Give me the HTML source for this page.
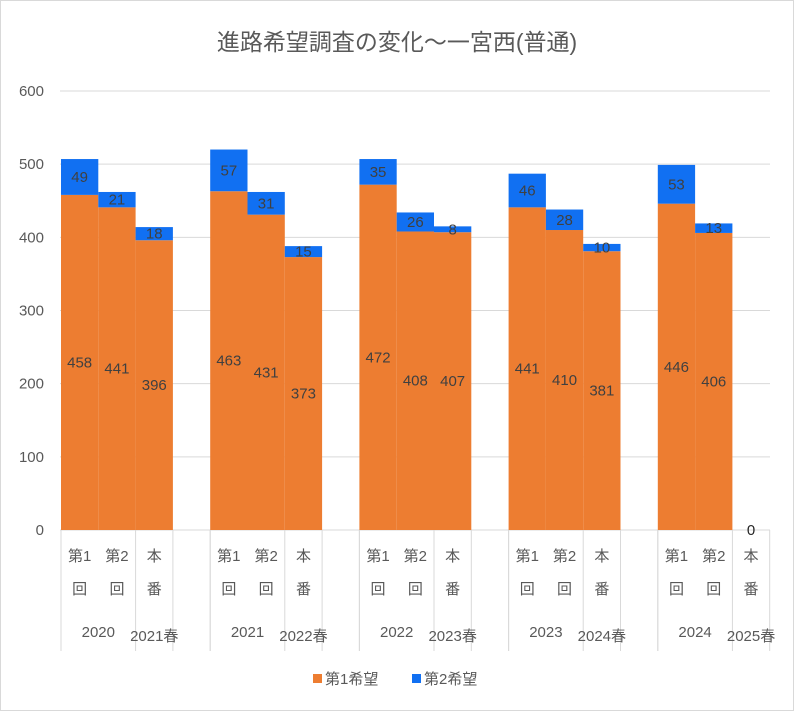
<!DOCTYPE html>
<html><head><meta charset="utf-8"><style>
body{margin:0;background:#fff;}
svg text{font-family:"Liberation Sans","Noto Sans CJK JP",sans-serif;}
</style></head><body>
<svg id="chart" width="794" height="711">
<rect x="0.5" y="0.5" width="793" height="710" fill="#fff" stroke="#d9d9d9"/>
<text x="397" y="50" font-size="23" fill="#595959" text-anchor="middle">進路希望調査の変化～一宮西(普通)</text>
<g id="grid"></g><g id="bars"></g><g id="axis"></g>
<g>
<rect x="313" y="674" width="9" height="9" fill="#ED7D31"/>
<text x="325" y="684" font-size="15" fill="#595959">第1希望</text>
<rect x="412" y="674" width="9" height="9" fill="#1170F2"/>
<text x="424" y="684" font-size="15" fill="#595959">第2希望</text>
</g>
</svg>
<script>
const years=["2020","2021","2022","2023","2024"];
const nextYears=["2021春","2022春","2023春","2024春","2025春"];
const round1First=[458,463,472,441,446];
const round1Second=[49,57,35,46,53];
const round2First=[441,431,408,410,406];
const round2Second=[21,31,26,28,13];
const finalFirst=[396,373,407,381,0];
const finalSecond=[18,15,8,10,0];
const yTicks=[0,100,200,300,400,500,600];
const NS="http://www.w3.org/2000/svg";
const x0=61,slot=37.3,y0=530,yTop=91,yMax=600;
const y=v=>y0-(v/yMax)*(y0-yTop);
function mk(tag,attrs,parent,text){const e=document.createElementNS(NS,tag);for(const k in attrs)e.setAttribute(k,attrs[k]);if(text!==undefined)e.textContent=text;parent.appendChild(e);return e;}
const grid=document.getElementById('grid'),bars=document.getElementById('bars'),axis=document.getElementById('axis');
yTicks.forEach(t=>{
 const l=mk('line',{x1:60,x2:770,y1:y(t),y2:y(t),stroke:'#d9d9d9','stroke-width':1},grid);
 
 
 const tx=mk('text',{x:44,y:y(t)+5,'font-size':15,fill:'#595959','text-anchor':'end'},grid,t);
 
 
});
const firsts=[round1First,round2First,finalFirst],seconds=[round1Second,round2Second,finalSecond];
const names=['round1','round2','final'];
years.forEach((yr,g)=>{
 for(let k=0;k<3;k++){
  const xi=x0+(g*4+k)*slot;
  const f=firsts[k][g],s=seconds[k][g];
  const r1=mk('rect',{x:xi,y:y(f),width:slot,height:y0-y(f),fill:'#ED7D31'},bars);
  
  
  const r2=mk('rect',{x:xi,y:y(f+s),width:slot,height:y(f)-y(f+s),fill:'#1170F2'},bars);
  
  
  const cx=xi+slot/2;
  if(f===0&&s===0){
   const z=mk('text',{x:cx,y:y0+5,'font-size':15,fill:'#262626','text-anchor':'middle'},bars,0);
   
   
  } else {
   const a=mk('text',{x:cx,y:(y(f)+y0)/2+5,'font-size':15,fill:'#404040','text-anchor':'middle'},bars,f);
   
   
   const b=mk('text',{x:cx,y:(y(f)+y(f+s))/2+5,'font-size':15,fill:'#404040','text-anchor':'middle'},bars,s);
   
   
  }
  const lab1=['第1','第2','本'][k],lab2=['回','回','番'][k];
  const t1=mk('text',{x:cx,y:561,'font-size':15,fill:'#595959','text-anchor':'middle'},axis,lab1);
  
  
  const t2=mk('text',{x:cx,y:594,'font-size':15,fill:'#595959','text-anchor':'middle'},axis,lab2);
  
  
 }
 const gx=x0+g*4*slot;
 [0,2,3,4].forEach(j=>{
  if(g===4&&j===4){}
  const ln=mk('line',{x1:gx+j*slot,x2:gx+j*slot,y1:y0,y2:651,stroke:'#d9d9d9','stroke-width':1},axis);
  
  
 });
 const ty=mk('text',{x:gx+slot,y:637,'font-size':15,fill:'#595959','text-anchor':'middle'},axis,yr);
 
 
 const tn=mk('text',{x:gx+2.5*slot,y:641,'font-size':15,fill:'#595959','text-anchor':'middle'},axis,nextYears[g]);
 
 
});
</script>
</body></html>
